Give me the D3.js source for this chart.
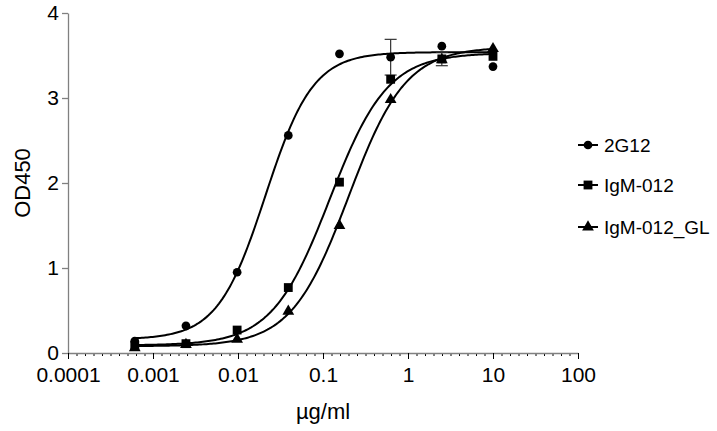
<!DOCTYPE html>
<html><head><meta charset="utf-8">
<script src="https://cdn.jsdelivr.net/npm/d3@7"></script>
<style>body{margin:0;background:#fff;} text{font-family:"Liberation Sans",Arial,sans-serif;fill:#000;}</style>
</head><body><svg id="c" width="717" height="431"></svg>
<script>
// ---- data ----
const seriesNames = ["2G12", "IgM-012", "IgM-012_GL"];
const concentrations = [0.00061035, 0.0024414, 0.0097656, 0.0390625, 0.15625, 0.625, 2.5, 10];
const od2G12 = [0.14, 0.32, 0.95, 2.56, 3.52, 3.48, 3.61, 3.37];
const odIgM012 = [0.09, 0.11, 0.27, 0.77, 2.01, 3.22, 3.46, 3.49];
const odIgM012GL = [0.06, 0.10, 0.16, 0.49, 1.50, 2.98, 3.45, 3.58];
// error bars (series index, concentration index, +/- value)
const errSeries = [0, 1];
const errIndex = [5, 6];
const errValue = [0.21, 0.08];
// 4-parameter logistic fit parameters
const fitBottom = [0.16, 0.09, 0.08];
const fitTop = [3.54, 3.53, 3.60];
const fitEC50 = [0.021, 0.12, 0.2];
const fitHill = [1.55, 1.28, 1.29];
const xTickValues = [0.0001, 0.001, 0.01, 0.1, 1, 10, 100];
const xTickLabels = ["0.0001", "0.001", "0.01", "0.1", "1", "10", "100"];
const yTickValues = [0, 1, 2, 3, 4];

const allValues = [od2G12, odIgM012, odIgM012GL];
const symbols = [d3.symbolCircle, d3.symbolSquare, d3.symbolTriangle];
const symSize = [60, 78, 60];

const svg = d3.select("#c");
const L = 68, R = 578, T = 13, B = 353;
const x = d3.scaleLog().domain([0.0001, 100]).range([L, R]);
const y = d3.scaleLinear().domain([0, 4]).range([B, T]);
const axisCol = "#808080";

// y axis
const yAx = svg.append("g").attr("transform", `translate(${L},0)`)
  .call(d3.axisLeft(y).tickValues(yTickValues).tickFormat(d3.format("d")).tickSize(6).tickSizeOuter(0));
yAx.select(".domain").attr("stroke", axisCol).attr("stroke-width", 1.3);
yAx.selectAll(".tick line").attr("stroke", axisCol).attr("stroke-width", 1.3);
yAx.selectAll(".tick text").attr("font-size", 21).attr("x", -9).attr("dy", "0.3em").attr("font-family", "Liberation Sans, Arial, sans-serif");

// x axis minor ticks (every 0.1 decade)
const minor = d3.range(-40, 21).map(i => Math.pow(10, i / 10)).filter(v => Math.abs(Math.log10(v) - Math.round(Math.log10(v))) > 1e-6);
const xMin = svg.append("g").attr("transform", `translate(0,${B})`)
  .call(d3.axisBottom(x).tickValues(minor).tickFormat("").tickSize(3).tickSizeOuter(0));
xMin.select(".domain").remove();
xMin.selectAll(".tick line").attr("stroke", "#000").attr("stroke-width", 1);

const xAx = svg.append("g").attr("transform", `translate(0,${B})`)
  .call(d3.axisBottom(x).tickValues(xTickValues).tickFormat((d, i) => xTickLabels[i]).tickSize(6).tickSizeOuter(0));
xAx.select(".domain").attr("stroke", axisCol).attr("stroke-width", 1.3);
xAx.selectAll(".tick line").attr("stroke", "#000").attr("stroke-width", 1);
xAx.selectAll(".tick text").attr("font-size", 21).attr("y", 14).attr("font-family", "Liberation Sans, Arial, sans-serif");

// axis titles
svg.append("text").attr("transform", `translate(30,${(T + B) / 2}) rotate(-90)`)
  .attr("text-anchor", "middle").attr("font-size", 22).text("OD450");
svg.append("text").attr("x", (L + R) / 2 + 0).attr("y", 419)
  .attr("text-anchor", "middle").attr("font-size", 22).text("\u00b5g/ml");

// fitted curves
const lx0 = Math.log10(concentrations[0]), lx1 = Math.log10(concentrations[concentrations.length - 1]);
const samples = d3.range(0, 201).map(i => Math.pow(10, lx0 + (lx1 - lx0) * i / 200));
const line = d3.line().x(d => x(d[0])).y(d => y(d[1]));
seriesNames.forEach((n, s) => {
  const pts = samples.map(c => [c, fitBottom[s] + (fitTop[s] - fitBottom[s]) / (1 + Math.pow(fitEC50[s] / c, fitHill[s]))]);
  svg.append("path").attr("d", line(pts)).attr("fill", "none").attr("stroke", "#000").attr("stroke-width", 2);
});

// error bars
errSeries.forEach((s, k) => {
  const c = concentrations[errIndex[k]], v = allValues[s][errIndex[k]], e = errValue[k];
  const g = svg.append("g").attr("stroke", "#333").attr("stroke-width", 1.2);
  g.append("line").attr("x1", x(c)).attr("x2", x(c)).attr("y1", y(v - e)).attr("y2", y(v + e));
  [v - e, v + e].forEach(w => g.append("line").attr("x1", x(c) - 6).attr("x2", x(c) + 6).attr("y1", y(w)).attr("y2", y(w)));
});

// markers
seriesNames.forEach((n, s) => {
  svg.append("g").selectAll("path").data(concentrations).join("path")
    .attr("transform", (c, i) => `translate(${x(c)},${y(allValues[s][i])})`)
    .attr("d", d3.symbol().type(symbols[s]).size(symSize[s])).attr("fill", "#000");
});

// legend
const legY = [145, 185, 227];
seriesNames.forEach((n, s) => {
  const g = svg.append("g").attr("transform", `translate(578,${legY[s]})`);
  g.append("line").attr("x1", 0).attr("x2", 20).attr("stroke", "#000").attr("stroke-width", 2);
  g.append("path").attr("transform", "translate(10,0)").attr("d", d3.symbol().type(symbols[s]).size(symSize[s])).attr("fill", "#000");
  g.append("text").attr("x", 26).attr("y", 7).attr("font-size", 19).text(n);
});
</script></body></html>
